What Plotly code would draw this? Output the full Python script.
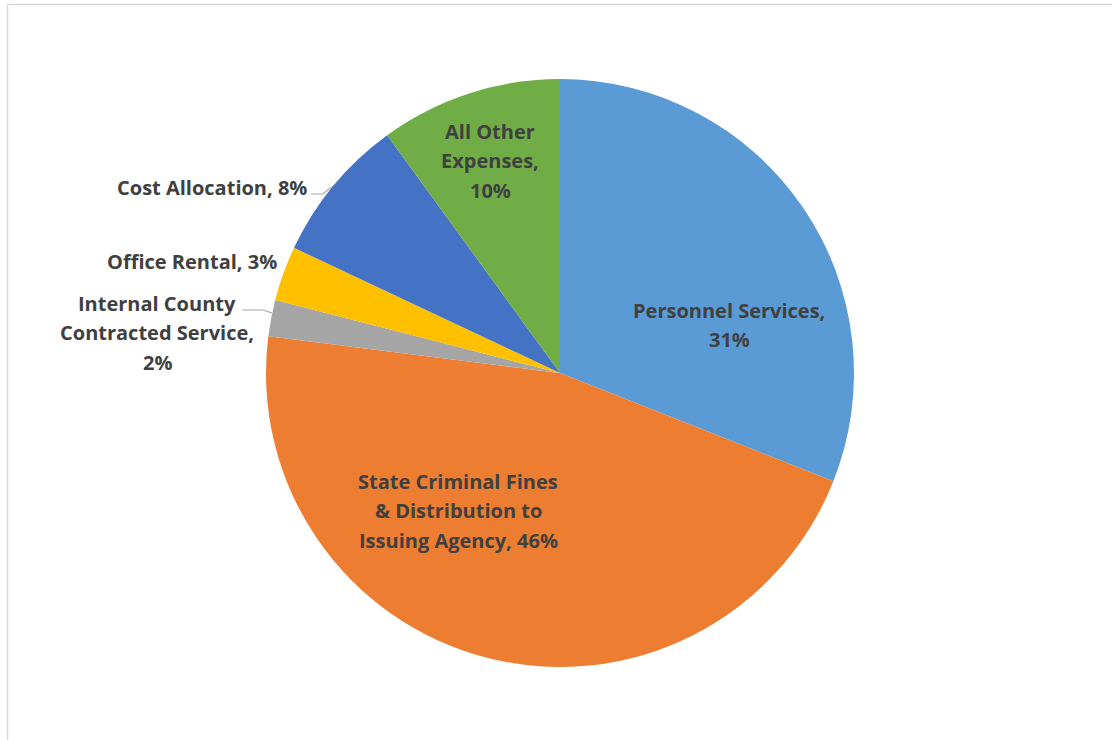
import textwrap
import plotly.graph_objects as go

# Expense categories and their share of the total (%)
categories = [
    "Personnel Services",
    "State Criminal Fines & Distribution to Issuing Agency",
    "Internal County Contracted Service",
    "Office Rental",
    "Cost Allocation",
    "All Other Expenses",
]
values = [31, 46, 2, 3, 8, 10]
colors = ["#5B9BD5", "#ED7D31", "#A5A5A5", "#FFC000", "#4472C4", "#70AD47"]

W, H = 1112, 740
CX, CY, R = 560, 373, 294

# label layout: wrap width, anchor of first line (px), alignment
wrap_widths = [20, 20, 20, 30, 30, 10]
label_pos = [(729, 310), (458, 481), (157, 303), (279, 261), (309, 187), (490, 131)]
label_align = ["center", "center", "center", "right", "right", "center"]
LINE_STEP = 29.5

fig = go.Figure()
fig.add_trace(go.Pie(
    labels=categories,
    values=values,
    sort=False,
    direction="clockwise",
    rotation=0,
    marker=dict(colors=colors, line=dict(width=0)),
    textinfo="none",
    hoverinfo="label+percent",
    showlegend=False,
    domain=dict(x=[(CX - R) / W, (CX + R) / W],
                y=[(H - CY - R) / H, (H - CY + R) / H]),
))

annotations = []
for cat, val, ww, (x, y), al in zip(categories, values, wrap_widths, label_pos, label_align):
    lines = textwrap.wrap(f"{cat}, {val}%", ww)
    for i, line in enumerate(lines):
        annotations.append(dict(
            x=x, y=y + i * LINE_STEP, xref="x", yref="y",
            text=f"<b>{line}</b>", showarrow=False,
            xanchor=al, yanchor="middle",
            font=dict(family="Open Sans, sans-serif", size=20, color="#404040"),
        ))

shapes = [
    # outer chart frame
    dict(type="rect", xref="x", yref="y", x0=7.5, y0=4.5, x1=1125, y1=760,
         line=dict(color="#D9D9D9", width=1.5), fillcolor="rgba(0,0,0,0)", layer="below"),
    # leader lines for the small outside labels
    dict(type="path", xref="x", yref="y", path="M 311,194 L 323,194 L 333,186",
         line=dict(color="#A6A6A6", width=1.2)),
    dict(type="path", xref="x", yref="y", path="M 242,310 L 263,310 L 272,313",
         line=dict(color="#A6A6A6", width=1.2)),
]

fig.update_layout(
    width=W, height=H,
    margin=dict(l=0, r=0, t=0, b=0),
    paper_bgcolor="white", plot_bgcolor="rgba(0,0,0,0)",
    xaxis=dict(range=[0, W], visible=False, domain=[0, 1], fixedrange=True),
    yaxis=dict(range=[H, 0], visible=False, domain=[0, 1], fixedrange=True),
    annotations=annotations,
    shapes=shapes,
)

fig.write_html("out.html")
